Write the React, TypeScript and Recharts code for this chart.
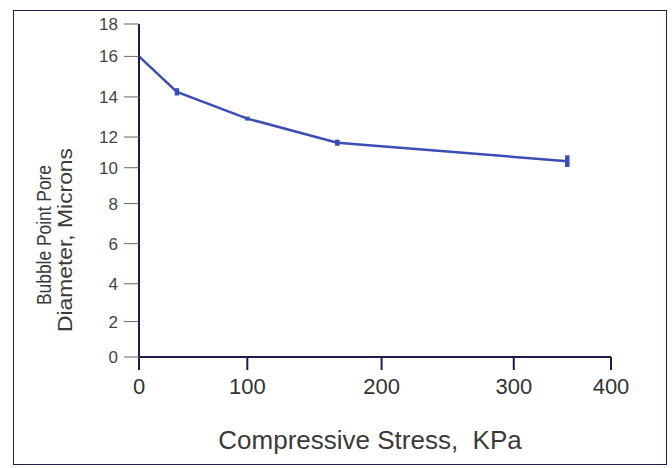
import { LineChart, Line, XAxis, YAxis, ErrorBar } from 'recharts'

// readings taken off the figure
const stressKPa = [0, 35, 100, 167, 355]
const poreDiameter = [16.0, 14.25, 12.92, 11.63, 10.43]
const poreSpread = [0, 0.18, 0.1, 0.2, 0.38]

const xTicks = [0, 100, 200, 300, 400]
const yTicks = [0, 2, 4, 6, 8, 10, 12, 14, 16, 18]

const data = stressKPa.map((x, i) => ({ x, y: poreDiameter[i], err: poreSpread[i] }))

const INK = '#1d1d48'
const BLUE = '#3c4db6'

// the scanned axes are not evenly spaced, so map each tick to where it sits
const X_FRAC = [0, 0.2295, 0.514, 0.794, 1]
const Y_FRAC = [0, 0.1063, 0.2199, 0.3404, 0.4608, 0.5684, 0.6605, 0.781, 0.9027, 1]

function piecewiseScale(knots: number[], fracs: number[], dom?: number[], rng?: number[]): any {
  let domain = dom ? dom.slice() : [knots[0], knots[knots.length - 1]]
  let range = rng ? rng.slice() : [0, 1]
  const s: any = (v: number) => {
    let i = 0
    while (i < knots.length - 2 && v > knots[i + 1]) i++
    const t = (v - knots[i]) / (knots[i + 1] - knots[i])
    const f = fracs[i] + t * (fracs[i + 1] - fracs[i])
    return range[0] + f * (range[1] - range[0])
  }
  s.domain = (d?: number[]) => {
    if (d === undefined) return domain.slice()
    domain = d.slice()
    return s
  }
  s.range = (r?: number[]) => {
    if (r === undefined) return range.slice()
    range = r.slice()
    return s
  }
  s.copy = () => piecewiseScale(knots, fracs, domain, range)
  s.ticks = () => knots.slice()
  s.tickFormat = () => (v: number) => String(v)
  s.nice = () => s
  s.clamp = () => s
  return s
}

const xScale = piecewiseScale(xTicks, X_FRAC)
const yScale = piecewiseScale(yTicks, Y_FRAC)

const font = 'Liberation Sans, Arial, sans-serif'

function YTitle() {
  return (
    <g fontFamily={font} fill="#3a3a3a">
      <text
        x={51}
        y={235}
        fontSize={20}
        textAnchor="middle"
        textLength={140}
        lengthAdjust="spacingAndGlyphs"
        transform="rotate(-90 51 235)"
      >
        Bubble Point Pore
      </text>
      <text
        x={72}
        y={240}
        fontSize={21}
        textAnchor="middle"
        textLength={184}
        lengthAdjust="spacingAndGlyphs"
        transform="rotate(-90 72 240)"
      >
        Diameter, Microns
      </text>
    </g>
  )
}

function XTitle() {
  return (
    <text
      x={370}
      y={449}
      textAnchor="middle"
      fontFamily={font}
      fontSize={26}
      fill="#3a3a3a"
      style={{ whiteSpace: 'pre' }}
    >
      {'Compressive Stress,  KPa'}
    </text>
  )
}

export default function App() {
  return (
    <div style={{ position: 'absolute', left: 0, top: 0, width: 672, height: 468, background: '#fff' }}>
      <div
        style={{
          position: 'absolute',
          left: 13,
          top: 10,
          width: 654,
          height: 455,
          border: `1.5px solid ${INK}`,
          boxSizing: 'border-box',
        }}
      />
      <LineChart
        width={672}
        height={468}
        data={data}
        margin={{ top: 24, right: 61, bottom: 0, left: 0 }}
        style={{ position: 'absolute', left: 0, top: 0 }}
      >
        <XAxis
          xAxisId="main"
          dataKey="x"
          type="number"
          domain={[0, 400]}
          ticks={xTicks}
          scale={xScale}
          height={111}
          tickSize={13}
          tickMargin={8}
          fontSize={22}
          fontFamily={font}
          axisLine={{ stroke: INK, strokeWidth: 2 }}
          tickLine={{ stroke: INK, strokeWidth: 2 }}
          tick={{ fill: '#333', fontSize: 22, fontFamily: font }}
          interval={0}
          label={{ content: () => <XTitle /> }}
        />
        <XAxis
          xAxisId="top"
          orientation="top"
          dataKey="x"
          type="number"
          domain={[0, 400]}
          height={0}
          tick={false}
          tickLine={false}
          axisLine={{ stroke: INK, strokeWidth: 2 }}
        />
        <YAxis
          yAxisId="main"
          type="number"
          domain={[0, 18]}
          ticks={yTicks}
          scale={yScale}
          width={139}
          tickSize={15}
          tickMargin={6}
          fontSize={17}
          fontFamily={font}
          axisLine={{ stroke: INK, strokeWidth: 2 }}
          tickLine={(props: any) =>
            props.payload && props.payload.value === 18 ? null : (
              <line {...props} stroke={INK} strokeWidth={2} />
            )
          }
          tick={{ fill: '#444', fontSize: 17, fontFamily: font }}
          interval={0}
          label={{ content: () => <YTitle /> }}
        />
        <YAxis
          yAxisId="right"
          orientation="right"
          type="number"
          domain={[0, 18]}
          width={0}
          tick={false}
          tickLine={false}
          axisLine={{ stroke: INK, strokeWidth: 2 }}
        />
        <Line
          xAxisId="main"
          yAxisId="main"
          dataKey="y"
          type="linear"
          stroke={BLUE}
          strokeWidth={2.5}
          dot={false}
          activeDot={false}
          isAnimationActive={false}
        >
          <ErrorBar dataKey="err" direction="y" width={0} stroke={BLUE} strokeWidth={4.5} isAnimationActive={false} />
        </Line>
      </LineChart>
    </div>
  )
}
